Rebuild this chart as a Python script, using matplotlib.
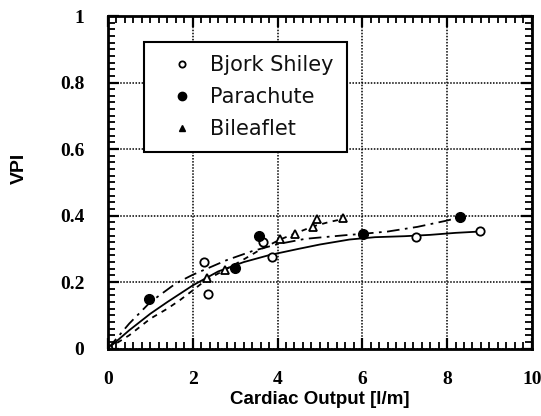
import matplotlib
matplotlib.use("Agg")
import matplotlib.pyplot as plt
from matplotlib.ticker import MultipleLocator

# ========== data ==========
# measured points
bjork_x = [0.0, 2.27, 2.35, 3.65, 3.86, 7.26, 8.77]
bjork_y = [0.0, 0.261, 0.163, 0.321, 0.276, 0.337, 0.354]

para_x = [0.97, 3.0, 3.57, 6.02, 8.3]
para_y = [0.150, 0.243, 0.339, 0.344, 0.395]

bilea_x = [0.0, 2.33, 2.76, 4.06, 4.41, 4.84, 4.92, 5.55]
bilea_y = [0.0, 0.211, 0.236, 0.331, 0.346, 0.366, 0.389, 0.392]

# fitted curves, traced by eye
fit_bjork_x = [0, 0.5, 1.0, 1.4, 2.0, 2.6, 3.2, 3.8, 4.5, 5.0, 5.7, 6.3, 7.0, 7.6, 8.2, 8.77]
fit_bjork_y = [0, 0.055, 0.105, 0.140, 0.190, 0.232, 0.260, 0.281, 0.300, 0.313, 0.328, 0.335, 0.338, 0.342, 0.348, 0.352]

fit_para_x = [0, 0.5, 1.0, 1.6, 2.0, 2.8, 3.4, 4.0, 4.65, 5.6, 6.0, 6.6, 7.3, 8.0, 8.3]
fit_para_y = [0, 0.075, 0.140, 0.196, 0.222, 0.266, 0.293, 0.314, 0.330, 0.341, 0.345, 0.352, 0.366, 0.385, 0.395]

fit_bilea_x = [0, 0.5, 1.0, 1.4, 1.7, 2.0, 2.3, 2.75, 3.2, 3.6, 4.06, 4.41, 4.85, 5.2, 5.55]
fit_bilea_y = [0, 0.040, 0.090, 0.120, 0.146, 0.175, 0.205, 0.236, 0.268, 0.298, 0.328, 0.346, 0.368, 0.380, 0.390]

legend_labels = ["Bjork Shiley", "Parachute", "Bileaflet"]

# ========== figure ==========
fig = plt.figure(figsize=(5.41, 4.16), dpi=100)
ax = fig.add_axes([0.1996, 0.162, 0.7834, 0.7995])

# curves
ax.plot(fit_bjork_x, fit_bjork_y, color="black", lw=1.3, ls="-")
ax.plot(fit_para_x, fit_para_y, color="black", lw=1.3, dashes=(7, 3, 1.5, 3))
ax.plot(fit_bilea_x, fit_bilea_y, color="black", lw=1.3, dashes=(3, 3))

# points
ax.plot(bjork_x, bjork_y, ls="none", marker="o", ms=6, mfc="white",
        mec="black", mew=1.3)
ax.plot(para_x, para_y, ls="none", marker="o", ms=7, mfc="black", mec="black")
ax.plot(bilea_x, bilea_y, ls="none", marker="^", ms=6, mfc="white",
        mec="black", mew=1.3)

ax.set_xlim(0, 10)
ax.set_ylim(0, 1)
ax.xaxis.set_major_locator(MultipleLocator(2))
ax.xaxis.set_minor_locator(MultipleLocator(0.2))
ax.yaxis.set_major_locator(MultipleLocator(0.2))
ax.yaxis.set_minor_locator(MultipleLocator(0.02))
ax.xaxis.set_major_formatter(plt.FuncFormatter(lambda v, p: f"{v:g}"))
ax.yaxis.set_major_formatter(plt.FuncFormatter(lambda v, p: f"{v:g}"))

ax.grid(which="major", color="black", ls=(0, (1, 1)), lw=1.1)
ax.tick_params(which="both", direction="in", top=True, right=True,
               color="black")
ax.tick_params(which="major", length=8, width=1.6)
ax.tick_params(axis="x", which="major", pad=16)
ax.tick_params(axis="y", which="major", pad=17)
ax.tick_params(which="minor", length=5, width=1.3)
for lab in ax.get_xticklabels() + ax.get_yticklabels():
    lab.set_fontfamily("Liberation Serif")
    lab.set_fontweight("bold")
    lab.set_fontsize(14)

for spine in ax.spines.values():
    spine.set_linewidth(2.0)
    spine.set_color("black")

ax.set_xlabel("Cardiac Output [l/m]", fontsize=13.5, fontweight="bold",
              family="Liberation Sans", labelpad=2)
ax.set_ylabel("VPI", fontsize=14, fontweight="bold", family="Liberation Sans")
ax.yaxis.set_label_coords(-0.19, 0.543)

# legend: markers only
lh1, = ax.plot([], [], ls="none", marker="o", ms=4.5, mfc="white", mec="black", mew=1.3)
lh2, = ax.plot([], [], ls="none", marker="o", ms=6, mfc="black", mec="black")
lh3, = ax.plot([], [], ls="none", marker="^", ms=5, mfc="black", mec="black")
leg = ax.legend([lh1, lh2, lh3], legend_labels, loc="upper left",
                bbox_to_anchor=(0.085, 0.922), frameon=True, fancybox=False,
                edgecolor="black", framealpha=1, borderpad=0.65,
                labelspacing=0.56, handlelength=2.3, handletextpad=0.2,
                borderaxespad=0, prop={"family": "DejaVu Sans", "size": 15})
leg.get_frame().set_linewidth(1.5)
for t in leg.get_texts():
    t.set_color("#111111")

fig.savefig("out.png", dpi=100)
